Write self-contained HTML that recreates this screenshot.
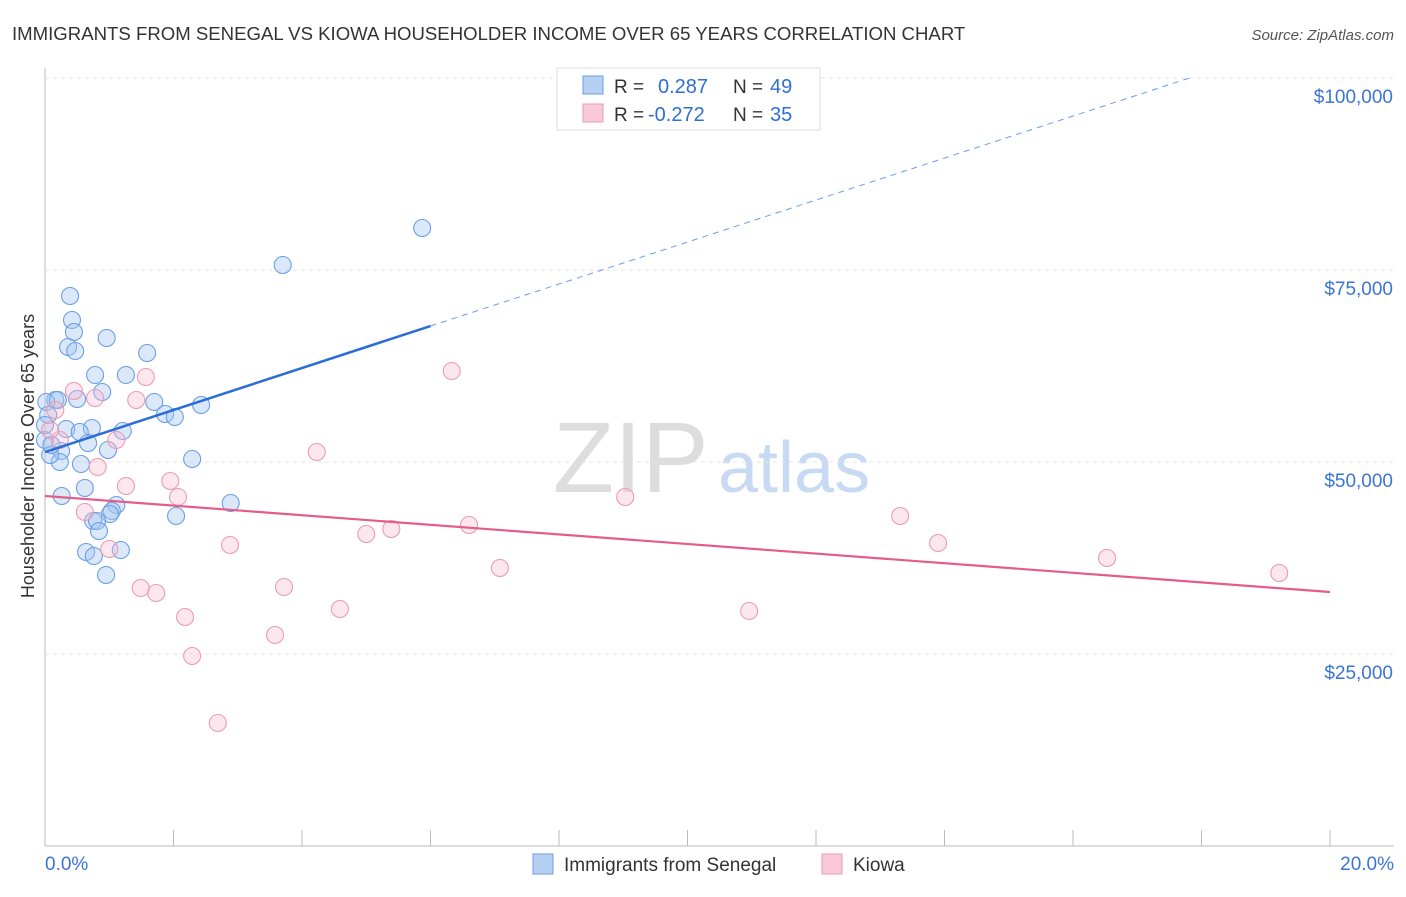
<!DOCTYPE html>
<html><head><meta charset="utf-8"><style>
body{margin:0;background:#fff;font-family:"Liberation Sans",sans-serif}
svg text{font-family:"Liberation Sans",sans-serif}
</style></head><body>
<svg id="c" width="1406" height="892" xmlns="http://www.w3.org/2000/svg">
<text x="12" y="40" font-size="18.6" fill="#333">IMMIGRANTS FROM SENEGAL VS KIOWA HOUSEHOLDER INCOME OVER 65 YEARS CORRELATION CHART</text>
<text x="1394" y="40" font-size="15" fill="#555" font-style="italic" text-anchor="end">Source: ZipAtlas.com</text>
<text x="553" y="492" font-size="100" fill="#ddd" font-family="Liberation Serif">ZIP</text>
<text x="718" y="492" font-size="72" fill="#c8daf3">atlas</text>
<text x="34" y="456" font-size="18" fill="#333" text-anchor="middle" transform="rotate(-90 34 456)">Householder Income Over 65 years</text>
<g id="grid"></g><g id="marks"></g>
<g>
<rect x="557" y="68" width="263" height="62" fill="#fff" stroke="#ddd"/>
<rect x="583" y="76" width="20" height="18" fill="#b5d0f3" stroke="#6a9ee6"/>
<rect x="583" y="104" width="20" height="18" fill="#f9c9d7" stroke="#ec9ab3"/>
<text x="614" y="93" font-size="19" fill="#333">R =</text><text x="658" y="93" font-size="20" fill="#2f6fd4">0.287</text>
<text x="733" y="93" font-size="19" fill="#333">N =</text><text x="770" y="93" font-size="20" fill="#2f6fd4">49</text>
<text x="614" y="121" font-size="19" fill="#333">R =</text><text x="648" y="121" font-size="20" fill="#2f6fd4">-0.272</text>
<text x="733" y="121" font-size="19" fill="#333">N =</text><text x="770" y="121" font-size="20" fill="#2f6fd4">35</text>
</g>
<g>
<rect x="533" y="854" width="20" height="20" fill="#b5d0f3" stroke="#6a9ee6"/>
<text x="564" y="871" font-size="19" fill="#333">Immigrants from Senegal</text>
<rect x="822" y="854" width="20" height="20" fill="#f9c9d7" stroke="#ec9ab3"/>
<text x="853" y="871" font-size="19" fill="#333">Kiowa</text>
</g>
</svg>
<script>
const yTicks=[25000,50000,75000,100000];
const yTickLabels=["$25,000","$50,000","$75,000","$100,000"];
const xTickLabels=["0.0%","20.0%"];
const blueX=[0.39,0.42,0.45,0.36,0.47,0.96,1.59,0.78,1.26,3.70,5.87,0.89,0.50,0.16,0.02,1.70,1.87,2.02,2.43,1.21,0.73,0.33,0.54,0.0,0.67,0.98,0.25,0.23,0.56,2.29,0.62,0.26,2.89,1.11,1.04,1.01,2.04,0.75,0.81,0.84,0.64,0.76,1.18,0.95,0.08,0.05,0.2,0.0,0.1];
const blueY=[71615,68490,66927,64974,64453,66146,64193,61328,61328,75651,80469,59115,58203,58073,57813,57813,56250,55859,57422,54036,54427,54297,53906,52865,52474,51563,51432,50000,49740,50391,46615,45573,44661,44401,43620,43229,42969,42318,42318,41016,38281,37760,38542,35286,50911,56120,58073,54818,52214];
const pinkX=[0.45,0.78,1.42,1.57,6.33,4.23,1.11,0.82,0.16,0.23,1.95,2.07,1.26,0.62,9.03,6.60,5.39,5.0,2.88,1.0,13.31,13.9,16.53,19.21,7.08,1.49,1.73,3.72,4.59,10.96,2.18,3.58,2.29,2.69,0.08];
const pinkY=[59245,58333,58073,61068,61849,51302,52865,49349,56771,52865,47526,45443,46875,43490,45443,41797,41276,40625,39193,38672,42969,39453,37500,35547,36198,33594,32943,33724,30859,30599,29818,27474,24740,16016,54167];
const blueTrend=[51302,2734];
const pinkTrend=[45573,-625];
const NS='http://www.w3.org/2000/svg';
const sx=v=>45+v*64.25, sy=v=>846-v/130.21;
function mk(t,a,p){const e=document.createElementNS(NS,t);for(const k in a)e.setAttribute(k,a[k]);p.appendChild(e);return e;}
const g=document.getElementById('grid'),m=document.getElementById('marks');
const ax=mk('line',{x1:45,y1:68,x2:45,y2:846,stroke:'#bbb'},g);


const bx=mk('line',{x1:45,y1:846,x2:1394,y2:846,stroke:'#bbb'},g);


for(let i=1;i<=10;i++){const t=mk('line',{x1:sx(i*2),x2:sx(i*2),y1:830,y2:846,stroke:'#bbb'},g);

}
yTicks.forEach((v,i)=>{const l=mk('line',{x1:45,x2:1394,y1:sy(v),y2:sy(v),stroke:'#e3e3e3','stroke-dasharray':'4 4'},g);


const t=mk('text',{x:1393,y:sy(v)+25,'font-size':19,fill:'#3a75d6','text-anchor':'end'},g);t.textContent=yTickLabels[i];

});
xTickLabels.forEach((s,i)=>{const t=mk('text',{x:i?1394:45,y:870,'font-size':19,fill:'#3a75d6','text-anchor':i?'end':'start'},g);t.textContent=s;

});
function pts(X,Y,f,s,n){X.forEach((x,i)=>{const c=mk('circle',{cx:sx(x),cy:sy(Y[i]),r:8.5,fill:f,stroke:s,'stroke-width':1.1},m);

});}
pts(blueX,blueY,'rgba(165,198,240,0.4)','#6a9ee6','senegal-point');
pts(pinkX,pinkY,'rgba(247,185,205,0.35)','#eb9ab4','kiowa-point');
const by=x=>blueTrend[0]+blueTrend[1]*x;
const b1=mk('line',{x1:sx(0),y1:sy(by(0)),x2:sx(6),y2:sy(by(6)),stroke:'#2a6dd6','stroke-width':2.5},m);


const xe=(100000-blueTrend[0])/blueTrend[1];
const b2=mk('line',{x1:sx(6),y1:sy(by(6)),x2:sx(xe),y2:sy(by(xe)),stroke:'#6a9ee6','stroke-width':1,'stroke-dasharray':'6 5'},m);


const py=x=>pinkTrend[0]+pinkTrend[1]*x;
const p1=mk('line',{x1:sx(0),y1:sy(py(0)),x2:sx(20),y2:sy(py(20)),stroke:'#e35d8a','stroke-width':2.2},m);


</script>
</body></html>
